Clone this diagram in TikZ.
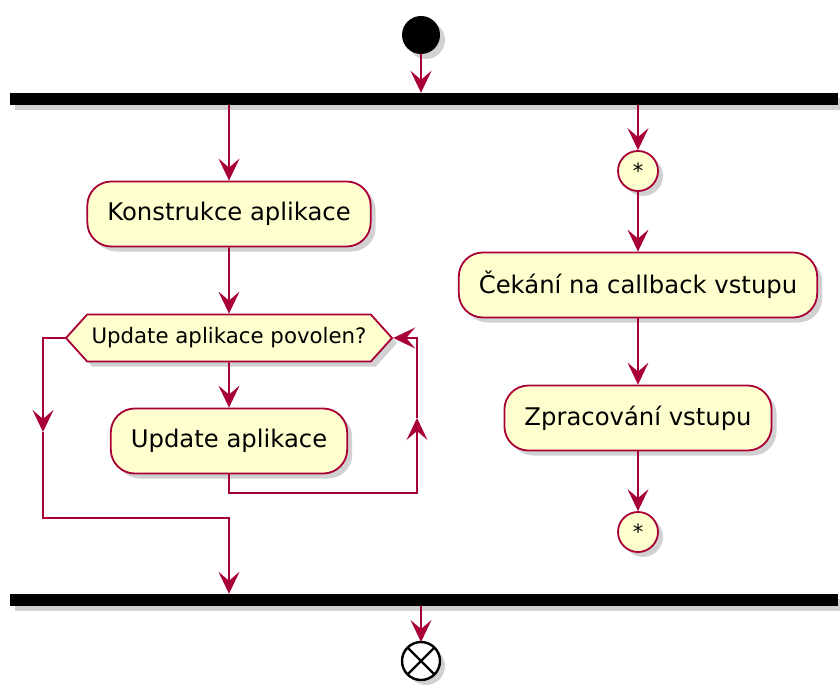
\documentclass[tikz,border=0pt]{standalone}
\usepackage{fontspec}
\setmainfont{DejaVu Sans}
\usetikzlibrary{positioning,arrows.meta,shapes.symbols,shadows}
\definecolor{umlfill}{HTML}{FEFECE}
\definecolor{umlred}{HTML}{A80036}

\begin{document}
\begin{tikzpicture}[x=1pt,y=-1pt,>={Stealth[length=22pt,width=21pt,inset=9pt]},
    shade/.style={drop shadow={shadow xshift=5pt,shadow yshift=-5pt,fill=black!45,opacity=.4}},
    act/.style={draw=umlred,fill=umlfill,line width=1.8pt,rounded corners=24pt,inner xsep=20pt,
        minimum height=65pt,font=\fontsize{24.3}{28}\selectfont,shade},
    cond/.style={shape=signal,signal to=east and west,signal pointer angle=96,draw=umlred,fill=umlfill,
        line width=1.8pt,inner sep=0pt,minimum width=326pt,minimum height=47pt,font=\fontsize{21.3}{24}\selectfont,shade},
    conn/.style={circle,draw=umlred,fill=umlfill,line width=1.8pt,inner sep=0pt,minimum size=40pt,
        font=\fontsize{21}{24}\selectfont,shade},
    bar/.style={fill=black,inner sep=0pt,minimum width=828pt,minimum height=12pt,shade},
    flow/.style={draw=umlred,line width=1.8pt,->}]
    \useasboundingbox (0,0) rectangle (840,687);

    \node[circle,fill=black,inner sep=0pt,minimum size=38pt,shade] (start) at (421,35) {};
    \node[bar] (fork) at (424,99) {};
    \node[bar] (join) at (424,600) {};

    % left branch
    \node[act] (konst) at (229,214) {Konstrukce aplikace};
    \node[cond] (hex) at (229,338) {Update aplikace povolen?};
    \node[act] (upd) at (229,441) {Update aplikace};
    \coordinate (loopR) at (417,493);
    \coordinate (loopUp) at (417,418);
    \coordinate (skipDn) at (43,432);
    \coordinate (skipJoin) at (229,518);

    % right branch
    \node[conn] (star1) at (638,171) {*};
    \node[act] (wait) at (638,285) {Čekání na callback vstupu};
    \node[act] (proc) at (638,418) {Zpracování vstupu};
    \node[conn] (star2) at (638,532) {*};

    \node[circle,draw=black,fill=white,line width=2.4pt,inner sep=0pt,minimum size=38pt,outer sep=0pt,shade] (stop) at (421,661) {};
    \draw[line width=2.4pt] (stop.north east) -- (stop.south west);
    \draw[line width=2.4pt] (stop.north west) -- (stop.south east);

    \draw[flow] (start) -- (start |- fork.north);
    \draw[flow] (konst |- fork.south) -- (konst);
    \draw[flow] (star1 |- fork.south) -- (star1);
    \draw[flow] (konst) -- (hex);
    \draw[flow] (hex) -- (upd);
    \draw[flow] (upd.south) |- (loopR) -- (loopUp);
    \draw[flow] (loopUp) |- (hex.east);
    \draw[flow] (hex.west) -| (skipDn);
    \draw[flow] (skipDn) |- (skipJoin) -- (skipJoin |- join.north);
    \draw[flow] (star1) -- (wait);
    \draw[flow] (wait) -- (proc);
    \draw[flow] (proc) -- (star2);
    \draw[flow] (start |- join.south) -- (stop);
\end{tikzpicture}
\end{document}
